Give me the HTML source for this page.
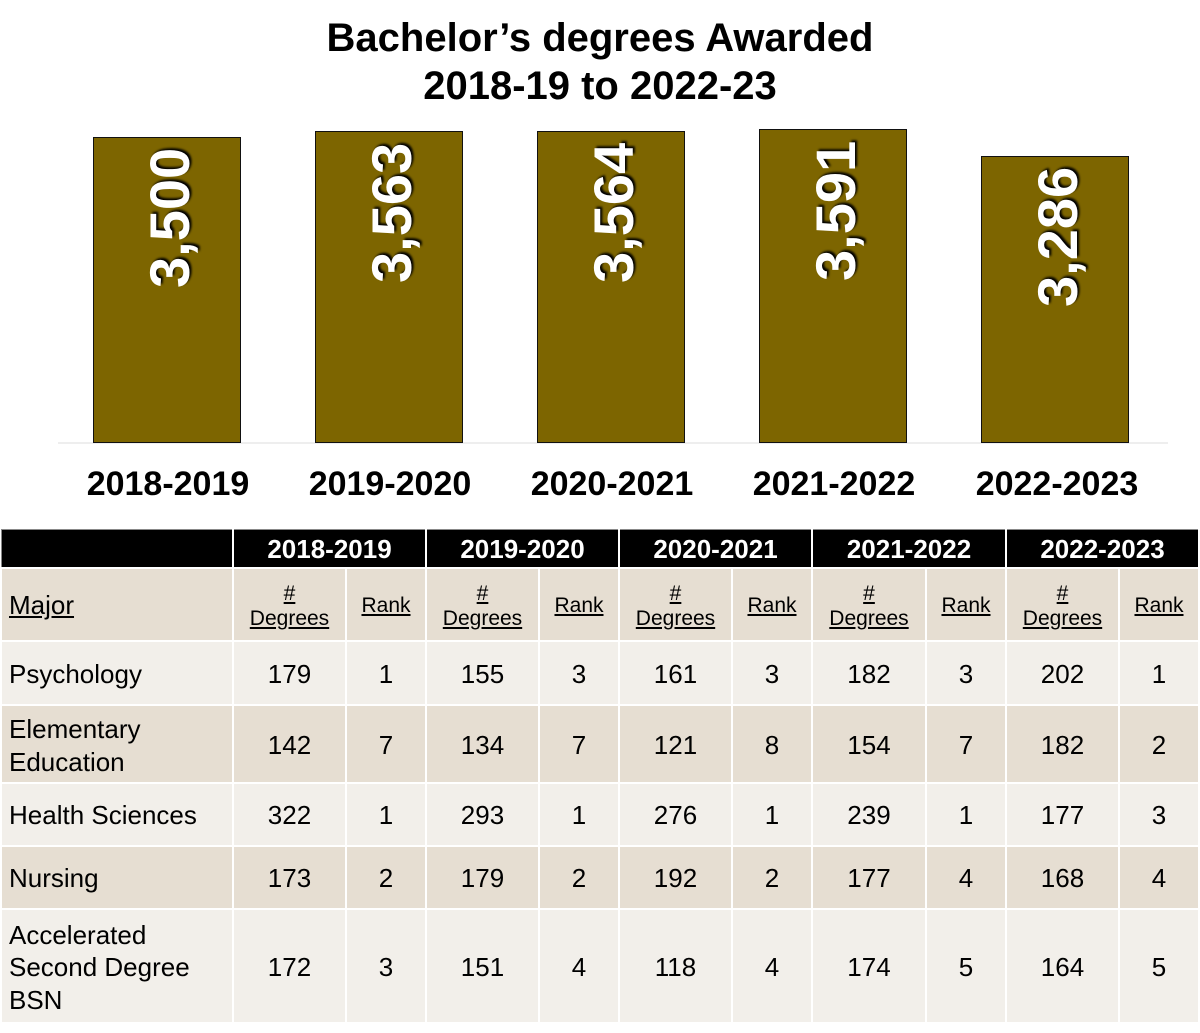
<!DOCTYPE html>
<html><head><meta charset="utf-8"><style>
body{margin:0;width:1200px;height:1033px;background:#fff;font-family:"Liberation Sans",Arial,sans-serif;position:relative;overflow:hidden}
.t{position:absolute;left:0;width:1200px;text-align:center;font-weight:bold;font-size:40px;color:#000}
.bar{position:absolute;width:146px;background:#7d6500;border:1px solid #111;bottom:590px}
.lab{position:absolute;font-weight:bold;font-size:56px;color:#fff;transform:rotate(-90deg);transform-origin:center;white-space:nowrap;text-shadow:2px 2px 2px #000;line-height:1}
.yr{position:absolute;top:465px;width:222px;text-align:center;font-weight:bold;font-size:34px}
table{position:absolute;left:0;top:529px;border-collapse:collapse;table-layout:fixed;width:1199px;border:1px solid #888}
td{border:2px solid #fff;font-size:26px;text-align:center;padding:3px 0 0 0;line-height:1.3}
tr.h td{background:#000;color:#fff;font-weight:bold;height:34px;border-left:2px solid #fff;border-top:1px solid #888}
.a td{background:#e6ded2}.b td{background:#f2efea}
td.m{text-align:left;padding-left:7px}
u{text-decoration:underline}
.s td{font-size:21px;line-height:1.2}
</style></head><body>
<div class="t" style="top:16px">Bachelor’s degrees Awarded</div>
<div class="t" style="top:64px">2018-19 to 2022-23</div>
<div style="position:absolute;left:58px;top:442px;width:1110px;height:2px;background:#eee"></div>
<div class="bar" style="left:93px;top:137px"></div>
<div class="bar" style="left:315px;top:131px"></div>
<div class="bar" style="left:537px;top:131px"></div>
<div class="bar" style="left:759px;top:129px"></div>
<div class="bar" style="left:981px;top:156px"></div>
<div class="lab" style="left:100px;top:190px;width:140px;text-align:center">3,500</div>
<div class="lab" style="left:322px;top:185px;width:140px;text-align:center">3,563</div>
<div class="lab" style="left:544px;top:185px;width:140px;text-align:center">3,564</div>
<div class="lab" style="left:766px;top:183px;width:140px;text-align:center">3,591</div>
<div class="lab" style="left:988px;top:209px;width:140px;text-align:center">3,286</div>
<div class="yr" style="left:57px">2018-2019</div>
<div class="yr" style="left:279px">2019-2020</div>
<div class="yr" style="left:501px">2020-2021</div>
<div class="yr" style="left:723px">2021-2022</div>
<div class="yr" style="left:946px">2022-2023</div>
<table>
<colgroup><col style="width:232px"><col style="width:113px"><col style="width:80px"><col style="width:113px"><col style="width:80px"><col style="width:113px"><col style="width:80px"><col style="width:114px"><col style="width:80px"><col style="width:113px"><col style="width:80px"></colgroup>
<tr class="h"><td style="border-left:1px solid #888"></td><td colspan="2">2018-2019</td><td colspan="2">2019-2020</td><td colspan="2">2020-2021</td><td colspan="2">2021-2022</td><td colspan="2">2022-2023</td></tr>
<tr class="a s" style="height:73px"><td class="m" style="font-size:26px"><u>Major</u></td><td><u>#<br>Degrees</u></td><td><u>Rank</u></td><td><u>#<br>Degrees</u></td><td><u>Rank</u></td><td><u>#<br>Degrees</u></td><td><u>Rank</u></td><td><u>#<br>Degrees</u></td><td><u>Rank</u></td><td><u>#<br>Degrees</u></td><td><u>Rank</u></td></tr>
<tr class="b" style="height:64px"><td class="m">Psychology</td><td>179</td><td>1</td><td>155</td><td>3</td><td>161</td><td>3</td><td>182</td><td>3</td><td>202</td><td>1</td></tr>
<tr class="a" style="height:78px"><td class="m" style="line-height:1.25">Elementary<br>Education</td><td>142</td><td>7</td><td>134</td><td>7</td><td>121</td><td>8</td><td>154</td><td>7</td><td>182</td><td>2</td></tr>
<tr class="b" style="height:63px"><td class="m">Health Sciences</td><td>322</td><td>1</td><td>293</td><td>1</td><td>276</td><td>1</td><td>239</td><td>1</td><td>177</td><td>3</td></tr>
<tr class="a" style="height:63px"><td class="m">Nursing</td><td>173</td><td>2</td><td>179</td><td>2</td><td>192</td><td>2</td><td>177</td><td>4</td><td>168</td><td>4</td></tr>
<tr class="b" style="height:114px"><td class="m" style="line-height:1.25">Accelerated<br>Second Degree<br>BSN</td><td>172</td><td>3</td><td>151</td><td>4</td><td>118</td><td>4</td><td>174</td><td>5</td><td>164</td><td>5</td></tr>
</table>
</body></html>
